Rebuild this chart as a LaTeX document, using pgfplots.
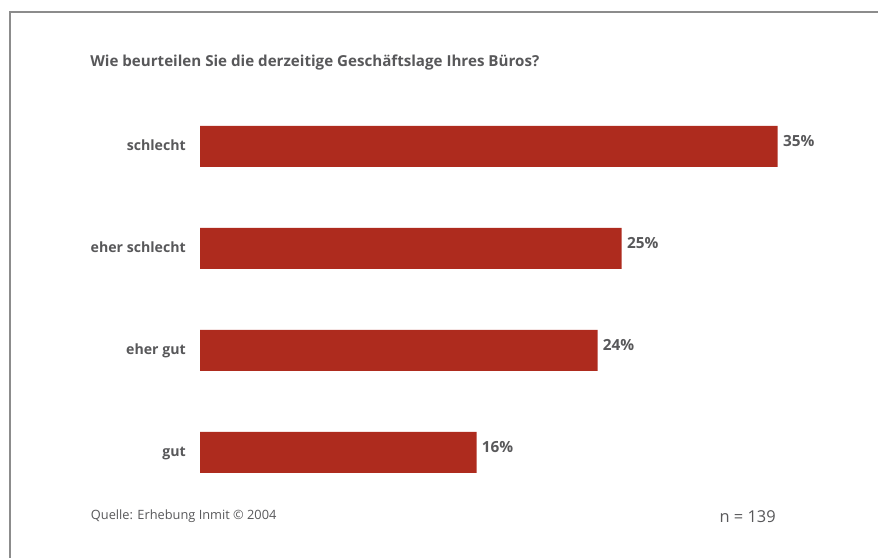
\documentclass[border=0pt]{standalone}
\usepackage{pgfplots}
\pgfplotsset{compat=1.18}
\usepackage{fontspec}
\setmainfont{Open Sans}
\definecolor{barred}{RGB}{174,43,30}
\definecolor{txtgray}{RGB}{88,88,90}
\definecolor{framegray}{RGB}{140,140,140}
\begin{document}
\begin{tikzpicture}[x=0.75pt,y=0.75pt]
\path[use as bounding box] (0,0) rectangle (878,558);
\draw[framegray, line width=1.2pt] (878,546) -- (10,546) -- (10,0);
\begin{axis}[
  at={(150pt,41.0pt)}, anchor=south west,
  scale only axis, width=433.3pt, height=306pt,
  xbar, bar width=30.75pt,
  xmin=0, xmax=35, ymin=-0.5, ymax=3.5,
  axis line style={draw=none}, major tick length=0pt,
  xtick=\empty,
  ytick={0,1,2,3},
  yticklabels={gut, eher gut, eher schlecht, schlecht},
  yticklabel style={font=\fontsize{10.6}{12}\selectfont\bfseries, text=txtgray, inner sep=0pt, anchor=base east, xshift=-10.5pt, yshift=-2.8pt},
  /pgf/number format/assume math mode=true,
  point meta=explicit,
  nodes near coords={\pgfmathprintnumber{\pgfplotspointmeta}\%},
  nodes near coords style={font=\fontsize{11.5}{13}\selectfont\bfseries, text=txtgray, anchor=west, inner sep=0pt, xshift=3.75pt, yshift=4.2pt},
  clip=false,
]
\addplot[fill=barred, draw=none] coordinates {
  (16.76,0) [16]
  (24.09,1) [24]
  (25.55,2) [25]
  (35,3) [35]
};
\end{axis}
\node[anchor=base west, inner sep=0pt, text=txtgray, font=\fontsize{11.35}{13}\selectfont\bfseries] at (90,491.3) {Wie beurteilen Sie die derzeitige Geschäftslage Ihres Büros?};
\node[anchor=base west, inner sep=0pt, text=txtgray, font=\fontsize{9.6}{11}\selectfont] at (90.7,39) {Quelle: Erhebung Inmit © 2004};
\node[anchor=base west, inner sep=0pt, text=txtgray, font=\fontsize{12.3}{14}\selectfont] at (719.3,36) {n = 139};
\end{tikzpicture}
\end{document}
